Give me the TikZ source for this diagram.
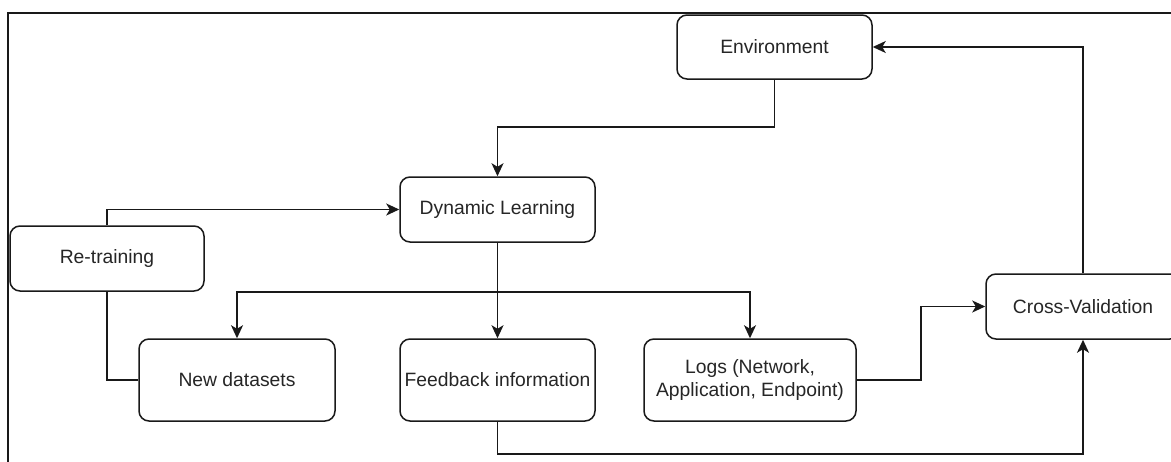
\documentclass[tikz,border=0pt]{standalone}
\usepackage{fontspec}
\setmainfont{Liberation Sans}
\usetikzlibrary{arrows.meta}

\tikzset{
  box/.style={draw=black!90, fill=white, rounded corners=10pt, line width=1.5pt,
    inner sep=1pt, align=center, text=black!85,
    font=\fontsize{19.3}{23}\selectfont},
  link/.style={draw=black!90, line width=1.5pt},
  arr/.style={link, -{Stealth[length=13pt, width=12pt, inset=3.5pt]}},
}

\begin{document}
\begin{tikzpicture}[x=1pt, y=-1pt]
  \useasboundingbox (0,0) rectangle (1171,461);
  \clip (0,0) rectangle (1171,461);

  % outer frame
  \draw[line width=1.5pt, draw=black!90] (8,13) rectangle (1200,490);

  % boxes
  \node[box, minimum width=195pt, minimum height=64pt] (env) at (774.5,47) {Environment};
  \node[box, minimum width=195pt, minimum height=65pt] (dl)  at (497.5,209.5) {Dynamic Learning};
  \node[box, minimum width=194pt, minimum height=65pt] (rt)  at (107,258.5) {Re-training};
  \node[box, minimum width=196pt, minimum height=82pt] (nd)  at (237,380) {New datasets};
  \node[box, minimum width=195pt, minimum height=82pt] (fb)  at (497.5,380) {Feedback information};
  \node[box, minimum width=212pt, minimum height=82pt] (logs) at (750,380) {Logs (Network,\\Application, Endpoint)};
  \node[box, minimum width=194pt, minimum height=65pt] (cv)  at (1083,306.5) {Cross-Validation};

  % bend points
  \coordinate (envbend) at (497.5,127);
  \coordinate (split) at (497.5,292);
  \coordinate (logbend) at (921,306.5);
  \coordinate (fbbend) at (497.5,454);

  % connectors
  \draw[arr] (env.south) |- (envbend) -- (dl.north);
  \draw[arr] (rt.north) |- (dl.west);
  \draw[link] (rt.south) |- (nd.west);
  \draw[arr] (dl.south) -- (fb.north);
  \draw[arr] (split) -| (nd.north);
  \draw[arr] (split) -| (logs.north);
  \draw[arr] (logs.east) -| (logbend) -- (cv.west);
  \draw[arr] (fb.south) -- (fbbend) -| (cv.south);
  \draw[arr] (cv.north) |- (env.east);
\end{tikzpicture}
\end{document}
